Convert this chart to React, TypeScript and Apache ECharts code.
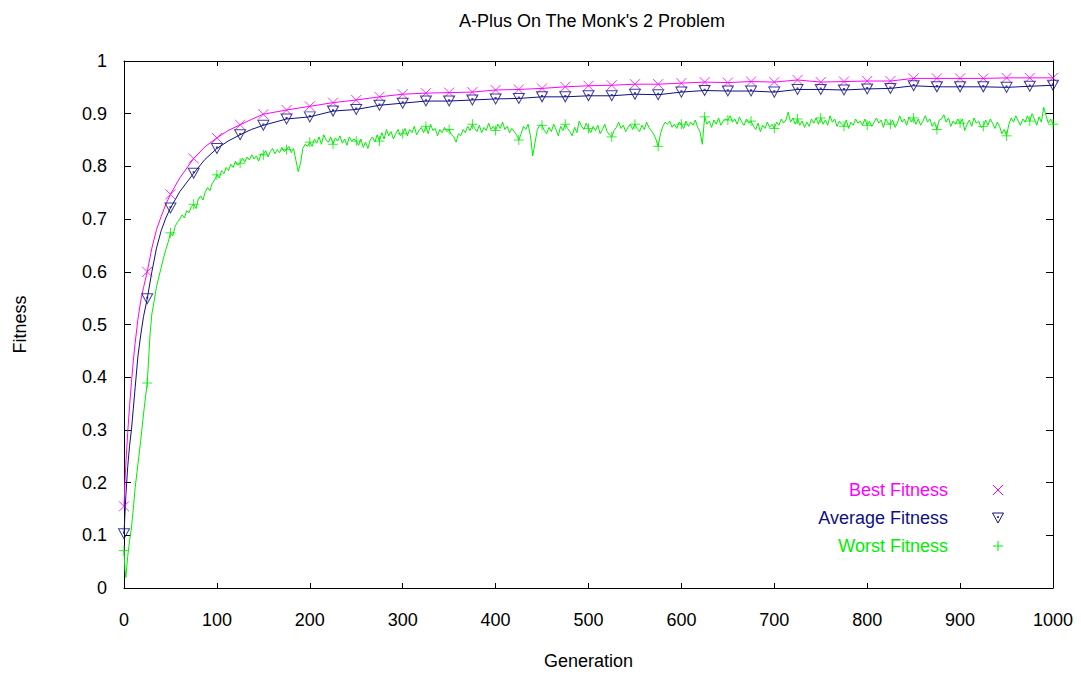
import React, { useEffect, useRef } from "react";
import * as echarts from "echarts";

// ---- data ----
const CURVE_GEN = [
  0, 1, 2, 4, 6, 8, 10, 12, 15, 18,
  21, 25, 30, 35, 40, 45, 50, 60, 75, 87,
  100, 112, 125, 137, 150,
  175, 200, 225, 250, 275, 300, 325, 350, 375, 400,
  425, 450, 475, 500, 525, 550, 575, 600, 625, 650,
  675, 700, 725, 750, 775, 800, 825, 850, 875, 900,
  925, 950, 975, 1000,
];

const BEST_FIT = [
  0.155, 0.2, 0.235, 0.295, 0.345, 0.39, 0.43, 0.465, 0.51, 0.545,
  0.57, 0.6, 0.645, 0.68, 0.705, 0.728, 0.747, 0.778, 0.815, 0.837,
  0.854, 0.868, 0.879, 0.889, 0.899,
  0.907, 0.914, 0.921, 0.926, 0.932, 0.937, 0.939, 0.94, 0.941, 0.945,
  0.946, 0.948, 0.951, 0.953, 0.954, 0.956, 0.956, 0.958, 0.96, 0.959,
  0.961, 0.96, 0.964, 0.96, 0.961, 0.962, 0.962, 0.967, 0.967, 0.967,
  0.967, 0.968, 0.968, 0.968,
];

const AVG_FIT = [
  0.103, 0.14, 0.175, 0.23, 0.27, 0.3, 0.34, 0.38, 0.44, 0.48,
  0.515, 0.549, 0.6, 0.645, 0.678, 0.702, 0.721, 0.752, 0.787, 0.813,
  0.834, 0.848, 0.86, 0.87, 0.878,
  0.89, 0.894, 0.905, 0.908, 0.916, 0.92, 0.924, 0.924, 0.926, 0.928,
  0.929, 0.932, 0.932, 0.934, 0.934, 0.937, 0.936, 0.941, 0.944, 0.943,
  0.943, 0.941, 0.946, 0.946, 0.945, 0.947, 0.948, 0.953, 0.951, 0.951,
  0.951, 0.95, 0.952, 0.954,
];

// worst fitness, first generations: [generation, fitness]
const WORST_EARLY: [number, number][] = [
  [0, 0.071], [1, 0.035], [2, 0.02], [4, 0.06], [6, 0.09], [8, 0.114], [10, 0.15],
  [12, 0.19], [15, 0.235], [18, 0.28], [21, 0.33], [25, 0.389], [28, 0.48],
];

// worst fitness from generation 30, one value every 2.5 generations
const WORST_START = 30;
const WORST_STEP = 2.5;
const WORST_FIT = [
  // 30 - 47.5
  .520, .545, .572, .590, .608, .626, .642, .656,
  // 50 - 97.5
  .674, .668, .686, .694, .700, .708, .702, .716, .712, .724, .728, .720, .738, .744, .736, .752, .760, .754, .768, .774,
  // 100
  .784, .778, .792, .786, .798, .792, .804, .798, .810, .802, .806, .816, .808, .818, .812, .822, .814, .820, .810, .824,
  // 150
  .822, .830, .818, .828, .834, .824, .832, .826, .836, .828, .832, .838, .826, .834, .812, .790, .806, .834, .842, .838,
  // 200
  .846, .838, .852, .844, .856, .842, .860, .850, .846, .856, .842, .854, .848, .858, .844, .852, .840, .856, .848, .852,
  // 250
  .848, .840, .852, .836, .846, .834, .850, .856, .846, .860, .848, .864, .852, .870, .858, .866, .852, .862, .870, .858,
  // 300
  .862, .872, .858, .870, .864, .876, .860, .868, .874, .864, .876, .862, .880, .868, .872, .858, .870, .864, .874, .866,
  // 350
  .870, .860, .856, .846, .862, .858, .870, .864, .876, .868, .880, .872, .866, .878, .864, .874, .868, .882, .870, .876,
  // 400
  .868, .880, .872, .884, .870, .876, .864, .872, .866, .860, .850, .862, .876, .870, .880, .858, .820, .846, .870, .878,
  // 450
  .878, .868, .862, .874, .866, .880, .870, .858, .876, .868, .880, .872, .866, .858, .874, .864, .886, .876, .870, .882,
  // 500
  .872, .864, .876, .868, .878, .862, .870, .880, .866, .860, .856, .868, .874, .884, .872, .878, .866, .874, .880, .870,
  // 550
  .880, .872, .866, .878, .870, .884, .874, .868, .862, .852, .838, .862, .876, .884, .880, .886, .874, .880, .872, .884,
  // 600
  .880, .872, .886, .876, .884, .878, .888, .874, .866, .842, .894, .880, .886, .874, .888, .880, .892, .878, .886, .890,
  // 650
  .888, .896, .884, .890, .880, .894, .884, .878, .890, .882, .886, .876, .870, .882, .866, .878, .872, .884, .874, .880,
  // 700
  .872, .884, .878, .890, .882, .888, .903, .884, .892, .880, .890, .878, .886, .874, .884, .876, .890, .882, .892, .880,
  // 750
  .892, .880, .888, .878, .896, .884, .890, .876, .886, .880, .876, .888, .872, .884, .878, .890, .882, .886, .878, .890,
  // 800
  .878, .886, .876, .884, .892, .882, .888, .874, .890, .882, .880, .888, .874, .882, .896, .884, .890, .878, .894, .884,
  // 850
  .892, .880, .890, .878, .886, .896, .884, .890, .876, .884, .870, .888, .890, .898, .884, .892, .876, .886, .880, .890,
  // 900
  .882, .890, .868, .880, .888, .876, .892, .882, .886, .874, .876, .888, .878, .890, .882, .872, .884, .876, .862, .870,
  // 950
  .858, .880, .892, .884, .896, .886, .878, .890, .884, .896, .886, .900, .890, .878, .894, .884, .912, .896, .882, .890,
  // 1000
  .880,
];

const SERIES_NAMES = ["Best Fitness", "Average Fitness", "Worst Fitness"];
const MARKER_EVERY = 25;

// ---- styles ----
const FONT = "'Liberation Sans', Arial, Helvetica, sans-serif";
const TEXT_COLOR = "#000";
const BEST_COLOR = "#ff00ff";
const AVG_COLOR = "#101080";
const WORST_COLOR = "#00ee00";

const ICON_X = "path://M0,0L10,10M10,0L0,10";
const ICON_TRI = "path://M0,0L11,0L5.5,10ZM5,3.6L6,3.6L6,4.6L5,4.6Z";
const ICON_PLUS = "path://M5,0L5,10M0,5L10,5";

export default function App() {
  const ref = useRef<HTMLDivElement>(null);

  useEffect(() => {
    if (!ref.current) return;
    const chart = echarts.init(ref.current, undefined, { renderer: "svg" });

    const bestPts = CURVE_GEN.map((g, i) => [g, BEST_FIT[i]]);
    const avgPts = CURVE_GEN.map((g, i) => [g, AVG_FIT[i]]);
    const worstPts = [
      ...WORST_EARLY.map((p) => [p[0], p[1]]),
      ...WORST_FIT.map((v, i) => [WORST_START + i * WORST_STEP, v]),
    ];
    const marks = (pts: number[][]) => pts.filter((p) => p[0] % MARKER_EVERY === 0);

    const lineSeries = (name: string, data: number[][], color: string, z: number) => ({
      type: "line",
      name,
      data,
      symbol: "none",
      silent: true,
      z,
      lineStyle: { color, width: 1 },
      itemStyle: { color },
    });
    const markSeries = (name: string, data: number[][], color: string, icon: string, size: number[], z: number) => ({
      type: "scatter",
      name,
      data,
      symbol: icon,
      symbolSize: size,
      silent: true,
      z,
      itemStyle: { color: "transparent", borderColor: color, borderWidth: 1 },
    });

    const axisLine = { show: true, onZero: false, lineStyle: { color: "#000", width: 1 } };
    const labelStyle = { fontSize: 18, color: TEXT_COLOR, fontFamily: FONT };

    chart.setOption({
      animation: false,
      backgroundColor: "#ffffff",
      title: {
        text: "A-Plus On The Monk's 2 Problem",
        left: 587,
        top: 7,
        textAlign: "center",
        textStyle: { fontSize: 18, fontWeight: "normal", color: TEXT_COLOR, fontFamily: FONT },
      },
      grid: { left: 124, right: 28, top: 61, bottom: 81, containLabel: false },
      legend: {
        orient: "vertical",
        align: "right",
        right: 72,
        top: 476,
        itemWidth: 90,
        itemHeight: 10,
        itemGap: 10,
        selectedMode: false,
        symbolKeepAspect: true,
        textStyle: { fontSize: 18, fontFamily: FONT },
        data: [
          {
            name: SERIES_NAMES[0],
            icon: ICON_X,
            itemStyle: { color: "transparent", borderColor: BEST_COLOR, borderWidth: 1 },
            textStyle: { color: BEST_COLOR },
          },
          {
            name: SERIES_NAMES[1],
            icon: ICON_TRI,
            itemStyle: { color: "transparent", borderColor: AVG_COLOR, borderWidth: 1 },
            textStyle: { color: AVG_COLOR },
          },
          {
            name: SERIES_NAMES[2],
            icon: ICON_PLUS,
            itemStyle: { color: "transparent", borderColor: WORST_COLOR, borderWidth: 1 },
            textStyle: { color: WORST_COLOR },
          },
        ],
      },
      xAxis: [
        {
          type: "value",
          position: "bottom",
          min: 0,
          max: 1000,
          interval: 100,
          axisLine,
          axisTick: { show: true, inside: true, length: 5, lineStyle: { color: "#000" } },
          axisLabel: { ...labelStyle, margin: 23, formatter: (v: number) => String(v) },
          splitLine: { show: false },
          name: "Generation",
          nameLocation: "middle",
          nameGap: 64,
          nameTextStyle: labelStyle,
        },
        {
          type: "value",
          position: "top",
          min: 0,
          max: 1000,
          interval: 100,
          axisLine,
          axisTick: { show: true, inside: true, length: 5, lineStyle: { color: "#000" } },
          axisLabel: { show: false },
          splitLine: { show: false },
        },
      ],
      yAxis: [
        {
          type: "value",
          position: "left",
          min: 0,
          max: 1,
          interval: 0.1,
          axisLine,
          axisTick: { show: true, inside: true, length: 7, lineStyle: { color: "#000" } },
          axisLabel: { ...labelStyle, margin: 17 },
          splitLine: { show: false },
          name: "Fitness",
          nameLocation: "middle",
          nameGap: 95,
          nameTextStyle: labelStyle,
        },
        {
          type: "value",
          position: "right",
          min: 0,
          max: 1,
          interval: 0.1,
          axisLine,
          axisTick: { show: true, inside: true, length: 7, lineStyle: { color: "#000" } },
          axisLabel: { show: false },
          splitLine: { show: false },
        },
      ],
      series: [
        lineSeries(SERIES_NAMES[0], bestPts, BEST_COLOR, 2),
        lineSeries(SERIES_NAMES[1], avgPts, AVG_COLOR, 3),
        lineSeries(SERIES_NAMES[2], worstPts, WORST_COLOR, 4),
        markSeries(SERIES_NAMES[0], marks(bestPts), BEST_COLOR, ICON_X, [10, 10], 5),
        markSeries(SERIES_NAMES[1], marks(avgPts), AVG_COLOR, ICON_TRI, [11, 10], 5),
        markSeries(SERIES_NAMES[2], marks(worstPts), WORST_COLOR, ICON_PLUS, [10, 10], 5),
      ],
    });

    return () => chart.dispose();
  }, []);

  return (
    <div
      ref={ref}
      style={{ position: "fixed", left: 0, top: 0, width: 1081, height: 675, background: "#fff" }}
    />
  );
}
